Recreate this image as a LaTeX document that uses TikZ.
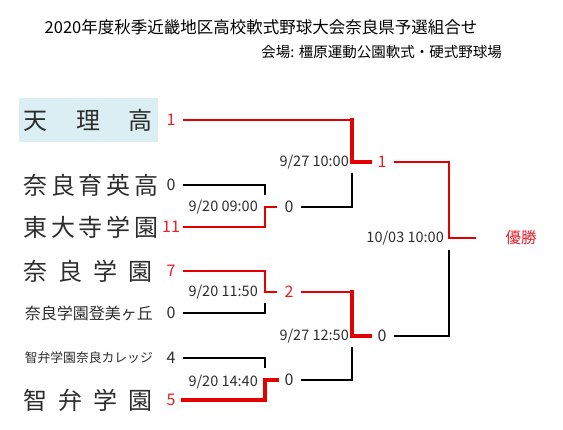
\documentclass[tikz,border=0pt]{standalone}
\usepackage{fontspec}
\setmainfont{Noto Sans CJK JP}
\usepackage{xcolor}
\usepackage{tikz}
\definecolor{LineRed}{RGB}{226, 0, 0}
\definecolor{ScoreRed}{RGB}{232, 32, 40}
\definecolor{NameBlue}{RGB}{218, 238, 243}
\definecolor{DarkText}{RGB}{45, 45, 45}
\tikzset{
  team/.style={anchor=east, inner xsep=5pt, inner ysep=0pt, text=DarkText,
    font=\fontsize{24}{24}\selectfont},
  score/.style={minimum width=24pt, inner sep=0pt, text=DarkText,
    font=\fontsize{16}{16}\selectfont},
  wscore/.style={score, text=ScoreRed},
  date/.style={anchor=east, inner sep=0pt, text=DarkText,
    font=\fontsize{14.5}{15}\selectfont},
  win/.style={draw=LineRed, line width=2.6pt},
  winbold/.style={draw=LineRed, line width=3.8pt, line cap=rect},
  lose/.style={draw=black, line width=2.8pt},
}

\begin{document}
\begin{tikzpicture}[x=1pt, y=-1pt]
  \useasboundingbox (0,0) rectangle (563,430);
  % header
  \node[font=\fontsize{16.5}{17}\selectfont] (title) at (261,27)
    {2020年度秋季近畿地区高校軟式野球大会奈良県予選組合せ};
  \node[anchor=east, inner sep=0pt, font=\fontsize{14.5}{15}\selectfont] (venue)
    at (502,52) {会場: 橿原運動公園軟式・硬式野球場};

  % teams and first scores
  \node[team, fill=NameBlue, minimum height=44pt] (t-tenri) at (158,120)
    {\makebox[129pt][s]{天 理 高}};
  \node[team] (t-ikuei) at (158,185) {\makebox[129pt][s]{奈 良 育 英 高}};
  \node[team] (t-todaiji) at (158,227) {\makebox[129pt][s]{東 大 寺 学 園}};
  \node[team] (t-naragak) at (158,271) {\makebox[129pt][s]{奈 良 学 園}};
  \node[team, font=\fontsize{16}{16}\selectfont] (t-tomi) at (158,313)
    {奈良学園登美ヶ丘};
  \node[team, font=\fontsize{12.8}{13}\selectfont] (t-college) at (158,358)
    {智弁学園奈良カレッジ};
  \node[team] (t-chiben) at (158,400) {\makebox[129pt][s]{智 弁 学 園}};

  \node[wscore] (s-tenri) at (171,120) {1};
  \node[score] (s-ikuei) at (171,185) {0};
  \node[wscore] (s-todaiji) at (171,227) {11};
  \node[wscore] (s-naragak) at (171,271) {7};
  \node[score] (s-tomi) at (171,313) {0};
  \node[score] (s-college) at (171,358) {4};
  \node[wscore] (s-chiben) at (171,400) {5};

  % later rounds
  \node[score] (r-A) at (289,207) {0};
  \node[wscore] (r-B) at (289,292) {2};
  \node[score] (r-C) at (289,380) {0};
  \node[wscore] (f-A) at (382,162) {1};
  \node[score] (f-B) at (382,336) {0};
  \node[text=ScoreRed, font=\fontsize{15.5}{16}\selectfont] (champ)
    at (521,238) {優勝};

  % dates
  \node[date] (d-A) at (258,207) {9/20 09:00};
  \node[date] (d-B) at (258,292) {9/20 11:50};
  \node[date] (d-C) at (258,382) {9/20 14:40};
  \node[date] (d-D) at (349,162) {9/27 10:00};
  \node[date] (d-E) at (349,336) {9/27 12:50};
  \node[date] (d-F) at (444,238) {10/03 10:00};

  % junctions
  \coordinate (jA) at (265,207);  \coordinate (jAb) at (265,195);
  \coordinate (jB) at (265,292);  \coordinate (jBb) at (265,303);
  \coordinate (jC) at (265,380);  \coordinate (jCb) at (265,368);
  \coordinate (jD) at (352,162);  \coordinate (jDb) at (352,173);
  \coordinate (jE) at (352,336);  \coordinate (jEb) at (352,347);
  \coordinate (jF) at (449,238);  \coordinate (jFb) at (449,250);
  \coordinate (fin) at (476,238);

  % first round
  \draw[lose] (s-ikuei.east) -| (jAb);
  \draw[win] (s-todaiji.east) -| (jA) -- (r-A.west);
  \draw[win] (s-naragak.east) -| (jB) -- (r-B.west);
  \draw[lose] (s-tomi.east) -| (jBb);
  \draw[lose] (s-college.east) -| (jCb);
  \draw[winbold] (s-chiben.east) -| (jC) -- (r-C.west);

  % second round
  \draw[win] (s-tenri.east) -- (s-tenri.east -| jD);
  \draw[winbold] (s-tenri.east -| jD) -- (jD) -- (f-A.west);
  \draw[lose] (r-A.east) -| (jDb);
  \draw[win] (r-B.east) -- (r-B.east -| jE);
  \draw[winbold] (r-B.east -| jE) -- (jE) -- (f-B.west);
  \draw[lose] (r-C.east) -| (jEb);

  % final
  \draw[win] (f-A.east) -| (jF) -- (fin);
  \draw[lose] (f-B.east) -| (jFb);
\end{tikzpicture}
\end{document}
